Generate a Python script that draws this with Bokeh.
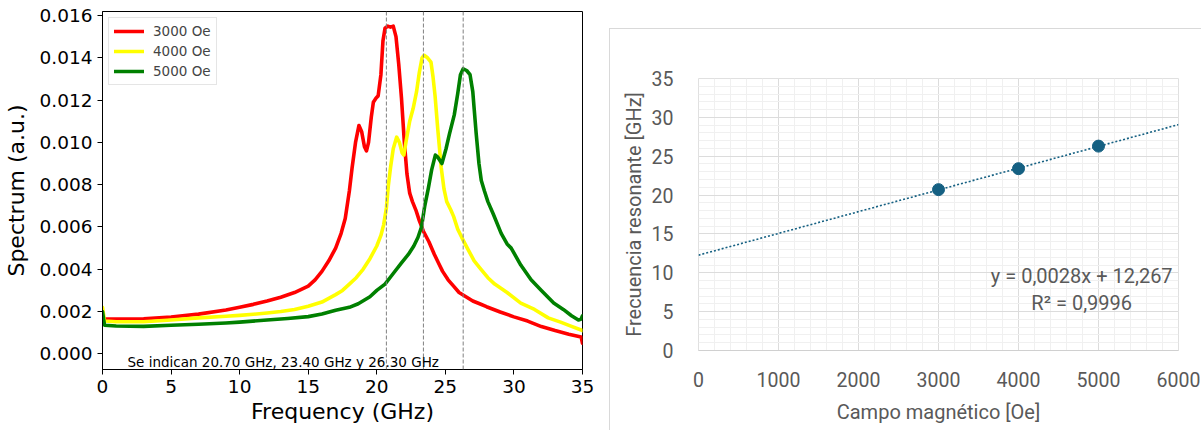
import numpy as np
from bokeh.plotting import figure
from bokeh.models import (Range1d, FixedTicker, NumeralTickFormatter, Span, Legend,
                          LegendItem, SingleIntervalTicker, Label, Spacer)
from bokeh.layouts import row, column
from bokeh.embed import file_html
from bokeh.resources import INLINE

# ---------------- data: left panel (spectra) ----------------
red_x = [0, 0.15, 1, 3, 5, 7, 9, 10, 11, 12, 13, 14, 15, 15.5, 16, 16.5, 17, 17.4, 17.7,
         18.0, 18.2, 18.45, 18.7, 18.9, 19.1, 19.25, 19.4, 19.6, 19.75, 19.95, 20.1, 20.3,
         20.45, 20.6, 20.8, 21.0, 21.2, 21.4, 21.6, 21.8, 22.0, 22.2, 22.4, 22.6, 22.85,
         23.1, 23.4, 23.8, 24.2, 24.5, 24.8, 25.2, 25.6, 26.0, 26.5, 27.0, 27.5, 28.0,
         29.0, 30.0, 31.0, 32.0, 33.0, 34.0, 34.9, 35.0]
red_y = [0.00168, 0.00166, 0.00165, 0.00166, 0.00174, 0.00188, 0.00207, 0.0022, 0.00234,
         0.0025, 0.00268, 0.0029, 0.0032, 0.0035, 0.0039, 0.0044, 0.0050, 0.0057, 0.0064,
         0.0077, 0.0088, 0.0100, 0.0108, 0.0105, 0.0098, 0.0096, 0.0100, 0.0112, 0.0119,
         0.0121, 0.0122, 0.0132, 0.0148, 0.0154, 0.0155, 0.01545, 0.0155, 0.0150, 0.0137,
         0.0121, 0.0101, 0.0085, 0.0076, 0.0072, 0.0068, 0.0063, 0.0058, 0.0053, 0.0047,
         0.0043, 0.0039, 0.0035, 0.0032, 0.0029, 0.0027, 0.0025, 0.00237, 0.00223,
         0.00198, 0.00175, 0.00155, 0.00129, 0.0011, 0.00093, 0.0008, 0.0005]

yel_x = [0, 0.15, 1, 3, 5, 7, 9, 10, 11, 12, 13, 14, 15, 16, 17, 17.5, 18, 18.5, 19, 19.5,
         20.0, 20.3, 20.5, 20.7, 20.85, 21.0, 21.2, 21.45, 21.65, 21.85, 21.97, 22.15, 22.4,
         22.65, 22.9, 23.1, 23.3, 23.45, 23.7, 23.95, 24.1, 24.25, 24.45, 24.7, 24.9, 25.1,
         25.4, 25.6, 25.9, 26.2, 26.6, 27.1, 27.6, 28.1, 28.6, 29.5, 30.5, 31.5, 32.5,
         33.4, 34.2, 34.9, 35.0]
yel_y = [0.0022, 0.00155, 0.00152, 0.00152, 0.0016, 0.0017, 0.00178, 0.00182, 0.00187,
         0.00193, 0.0020, 0.0021, 0.00225, 0.00245, 0.0028, 0.0030, 0.0033, 0.0036, 0.0040,
         0.0045, 0.0051, 0.0056, 0.0061, 0.0069, 0.0080, 0.0088, 0.0097, 0.01025, 0.0100,
         0.0095, 0.0094, 0.0101, 0.0110, 0.0116, 0.0124, 0.0133, 0.0140, 0.01412, 0.0140,
         0.0138, 0.0131, 0.0122, 0.0106, 0.0088, 0.0078, 0.0072, 0.0068, 0.0065, 0.0059,
         0.0055, 0.0050, 0.0044, 0.0040, 0.0036, 0.0033, 0.0029, 0.0024, 0.0021, 0.0017,
         0.0015, 0.0013, 0.00113, 0.0011]

grn_x = [0, 0.15, 1, 3, 5, 7, 9, 10, 12, 13.5, 15, 16, 17, 18, 18.65, 19.5, 20.0, 20.6,
         21.2, 21.8, 22.3, 22.7, 23.0, 23.26, 23.5, 23.75, 24.0, 24.27, 24.45, 24.75,
         25.05, 25.3, 25.65, 25.9, 26.1, 26.3, 26.55, 26.8, 27.0, 27.1, 27.25, 27.45,
         27.62, 27.85, 28.1, 28.5, 29.07, 29.5, 29.8, 30.5, 31.25, 32.0, 32.9, 33.6, 34.2,
         34.7, 34.9, 35.0]
grn_y = [0.0020, 0.00135, 0.00132, 0.0013, 0.00135, 0.0014, 0.00146, 0.0015, 0.0016,
         0.00167, 0.00176, 0.00188, 0.00206, 0.0022, 0.00237, 0.0027, 0.0030, 0.0033,
         0.0038, 0.0043, 0.0047, 0.0051, 0.0055, 0.0060, 0.0070, 0.0078, 0.0087, 0.0094,
         0.0093, 0.0090, 0.0097, 0.0104, 0.0113, 0.0123, 0.0132, 0.01348, 0.0134, 0.0132,
         0.0124, 0.0116, 0.0104, 0.0090, 0.0082, 0.0077, 0.0072, 0.0066, 0.0057, 0.0052,
         0.0050, 0.0042, 0.0035, 0.0030, 0.0024, 0.0021, 0.0018, 0.0016, 0.00165, 0.0018]

series_names = ["3000 Oe", "4000 Oe", "5000 Oe"]
peak_freqs = [20.7, 23.4, 26.3]
y_ticks_left = [0.000, 0.002, 0.004, 0.006, 0.008, 0.010, 0.012, 0.014, 0.016]
x_ticks_left = [0, 5, 10, 15, 20, 25, 30, 35]
note_text = "Se indican 20.70 GHz, 23.40 GHz y 26.30 GHz"

# ---------------- data: right panel (resonance vs field) ----------------
fields = [3000, 4000, 5000]
freqs = [20.7, 23.4, 26.3]

# =============== left figure ===============
FONT_L = "DejaVu Sans"
p1 = figure(width=609, height=430, output_backend="svg", toolbar_location=None,
            x_range=Range1d(0, 35), y_range=Range1d(-0.00074, 0.01619),
            min_border_left=100, min_border_right=27, min_border_top=11,
            min_border_bottom=61)
p1.grid.visible = False
p1.outline_line_color = "black"
p1.outline_line_width = 1
p1.background_fill_color = "white"

for ax in (p1.xaxis[0], p1.yaxis[0]):
    ax.axis_line_color = "black"
    ax.major_tick_line_color = "black"
    ax.major_tick_out = 5
    ax.major_tick_in = 0
    ax.minor_tick_line_color = None
    ax.major_label_text_font = FONT_L
    ax.major_label_text_font_size = "18.5px"
    ax.major_label_text_color = "black"
    ax.axis_label_text_font = FONT_L
    ax.axis_label_text_font_size = "22px"
    ax.axis_label_text_font_style = "normal"
    ax.axis_label_text_color = "black"

p1.xaxis.ticker = FixedTicker(ticks=x_ticks_left)
p1.yaxis.ticker = FixedTicker(ticks=y_ticks_left)
p1.yaxis.formatter = NumeralTickFormatter(format="0.000")
p1.xaxis.axis_label = "Frequency (GHz)"
p1.yaxis.axis_label = "Spectrum (a.u.)"
p1.xaxis.axis_label_standoff = 3
p1.yaxis.axis_label_standoff = 8

for f in peak_freqs:
    p1.add_layout(Span(location=f, dimension="height", line_color="#808080",
                       line_dash="4 2", line_width=1))

colors = ["#ff0000", "#ffff00", "#008000"]
renderers = []
for xs, ys, c in zip([red_x, yel_x, grn_x], [red_y, yel_y, grn_y], colors):
    renderers.append(p1.line(xs, ys, line_color=c, line_width=3.6,
                             line_join="round", line_cap="round"))

legend = Legend(items=[LegendItem(label=n, renderers=[r]) for n, r in zip(series_names, renderers)],
                location="top_left", margin=6, padding=5, spacing=4,
                glyph_width=30, glyph_height=16, label_height=16, label_standoff=9,
                label_text_font=FONT_L, label_text_font_size="13.5px",
                border_line_color="#cccccc", border_line_width=1,
                background_fill_alpha=0.8)
p1.add_layout(legend)

p1.add_layout(Label(x=1.82, y=-0.0004, text=note_text, text_font=FONT_L,
                    text_font_size="13.5px", text_baseline="middle",
                    text_color="black"))

# =============== right figure ===============
FONT_R = "Roboto"
GRAY = "#595959"
ACC = "#156082"
p2 = figure(width=592, height=402, output_backend="svg", toolbar_location=None,
            x_range=Range1d(0, 6000), y_range=Range1d(0, 35),
            min_border_left=88, min_border_right=24, min_border_top=49,
            min_border_bottom=81)
p2.outline_line_color = "#e0e0e0"
p2.styles = {"border-left": "1px solid #d9d9d9", "border-top": "1px solid #d9d9d9"}

p2.xaxis.ticker = SingleIntervalTicker(interval=1000, num_minor_ticks=5)
p2.yaxis.ticker = SingleIntervalTicker(interval=5, num_minor_ticks=5)
p2.xaxis.formatter = NumeralTickFormatter(format="0")
p2.yaxis.formatter = NumeralTickFormatter(format="0")
for ax in (p2.xaxis[0], p2.yaxis[0]):
    ax.major_tick_line_color = None
    ax.minor_tick_line_color = None
    ax.major_tick_out = 0
    ax.major_tick_in = 0
    ax.major_label_text_font = FONT_R
    ax.major_label_text_font_size = "19.5px"
    ax.major_label_text_color = GRAY
    ax.axis_label_text_font = FONT_R
    ax.axis_label_text_font_size = "20px"
    ax.axis_label_text_font_style = "normal"
    ax.axis_label_text_color = GRAY
p2.xaxis.axis_line_color = "#d0d0d0"
p2.yaxis.axis_line_color = None
p2.xaxis.major_label_standoff = 17
p2.yaxis.major_label_standoff = 21
p2.xaxis.axis_label_standoff = 10
p2.yaxis.axis_label_standoff = 3
p2.xaxis.axis_label = "Campo magnético [Oe]"
p2.yaxis.axis_label = "Frecuencia resonante [GHz]"

p2.xgrid.grid_line_color = "#dcdcdc"
p2.ygrid.grid_line_color = "#dcdcdc"
p2.xgrid.minor_grid_line_color = "#f0f0f0"
p2.ygrid.minor_grid_line_color = "#f0f0f0"

coef = np.polyfit(fields, freqs, 1)
pred = np.polyval(coef, fields)
r2 = 1 - np.sum((np.array(freqs) - pred) ** 2) / np.sum((np.array(freqs) - np.mean(freqs)) ** 2)
trend_x = [p2.x_range.start, p2.x_range.end]
p2.line(trend_x, list(np.polyval(coef, trend_x)), line_color=ACC, line_width=1.6,
        line_dash="2 2")
p2.scatter(fields, freqs, size=12, fill_color=ACC, line_color=ACC)

eq_text = f"y = {coef[0]:.4f}x + {coef[1]:.3f}".replace(".", ",")
r2_text = f"R² = {r2:.4f}".replace(".", ",")
p2.add_layout(Label(x=4790, y=9.6, text=eq_text, text_align="center",
                    text_baseline="middle", text_font=FONT_R, text_font_size="20px",
                    text_color=GRAY))
p2.add_layout(Label(x=4790, y=6.1, text=r2_text, text_align="center",
                    text_baseline="middle", text_font=FONT_R, text_font_size="20px",
                    text_color=GRAY))

layout = row(p1, column(Spacer(width=592, height=28), p2))
open("out.html", "w").write(file_html(layout, INLINE))
